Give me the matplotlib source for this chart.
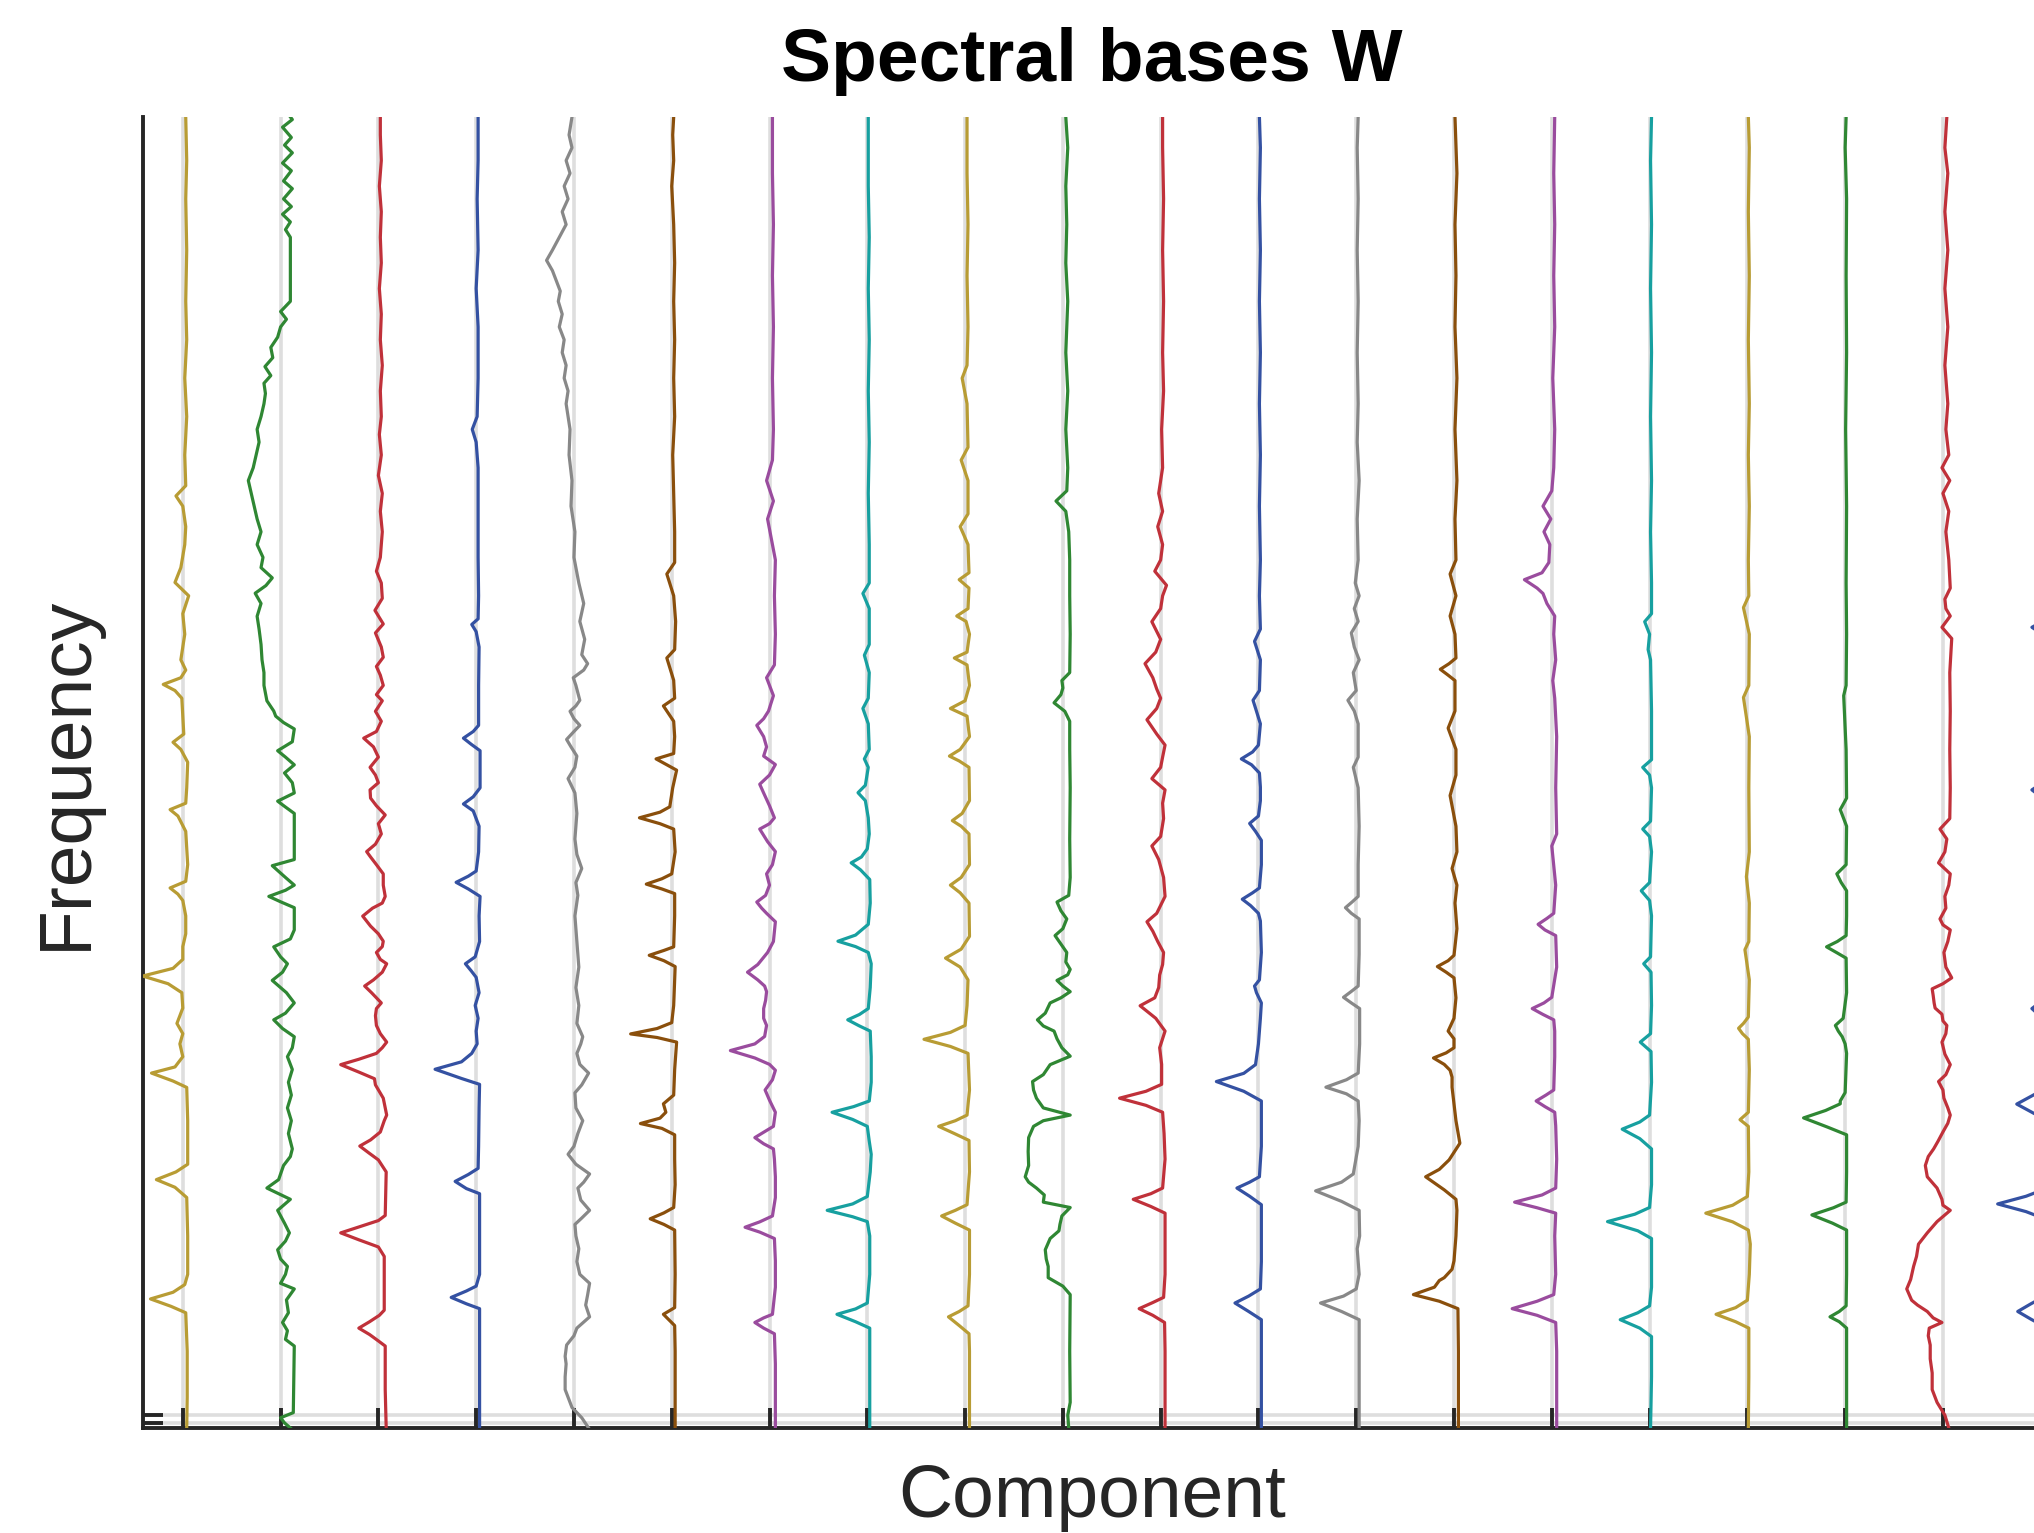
import matplotlib
matplotlib.use("Agg")
import matplotlib.pyplot as plt
import numpy as np

# Spectral bases W: 20 components, each drawn as a vertical trace at x = k - w(f)
# data: (frequency bin, leftward deflection in component units)

c01 = [(0, -0.04), (12, -0.045), (30, -0.045), (45, -0.03), (47.5, 0.12), (50.4, 0.33), (53, 0.1), (56, -0.02),
       (60, -0.05), (75, -0.05), (90, -0.04), (94, 0.08), (97, 0.27), (100, 0.07), (103, -0.05), (120, -0.05),
       (133, -0.04), (135.5, 0.1), (138.6, 0.32), (141, 0.08), (145, 0.0), (150, 0.03), (154, 0.0), (158, 0.06),
       (164, 0.0), (170, 0.01), (173.5, 0.15), (176.5, 0.41), (179.5, 0.1), (183, 0.0), (188, 0.0), (193, -0.03),
       (200, -0.03), (206, 0.0), (208.5, 0.05), (210.9, 0.13), (213.5, -0.03), (220, -0.05), (233, -0.03),
       (239, 0.05), (241.5, 0.13), (244, -0.03), (250, -0.04), (260, -0.05), (265, 0.02), (267.8, 0.10),
       (271, -0.01), (278, 0.0), (285, 0.01), (288, 0.08), (290.4, 0.20), (293, 0.02), (296, -0.03), (300, 0.02),
       (310, -0.02), (318, 0.0), (325, -0.06), (330.2, 0.08), (336, 0.02), (345, -0.02), (352, -0.03),
       (360, 0.0), (364, 0.07), (368, -0.03), (380, -0.02), (395, -0.04), (410, -0.02), (425, -0.04),
       (440, -0.03), (460, -0.04), (480, -0.03), (495, -0.04), (512, -0.03)]

c02 = [(0, -0.10), (2, -0.04), (4, 0.0), (6, -0.13), (32, -0.14), (34.6, -0.05), (38, -0.07), (41.2, -0.02),
       (45, -0.08), (50, -0.06), (54.3, -0.14), (56.5, 0.0), (60, -0.05), (63.1, -0.07), (66, 0.0), (69.6, 0.03),
       (73, -0.05), (76.2, -0.09), (80, -0.04), (85, 0.03), (89.3, -0.10), (93.7, 0.14), (97, 0.02),
       (102.5, -0.03), (106, -0.10), (109, -0.12), (115, -0.08), (120, -0.11), (125, -0.07), (130, -0.11),
       (135, -0.08), (140, -0.12), (145, -0.07), (148.5, -0.12), (152.8, -0.14), (156, -0.02), (159.4, 0.07),
       (162, -0.05), (166, -0.14), (170, -0.06), (174.8, 0.085), (178, -0.02), (181.3, -0.07), (184, 0.0),
       (187.9, 0.07), (191, -0.1), (194.5, -0.14), (203.2, -0.14), (205.5, 0.0), (207.6, 0.12), (210, -0.05),
       (212, -0.14), (215, -0.05), (219.6, 0.085), (222, -0.14), (240, -0.14), (242.5, -0.05), (244.8, 0.03),
       (248, -0.14), (252, -0.12), (255.8, -0.04), (259, -0.14), (262, -0.05), (264.5, 0.03), (268, -0.12),
       (273, -0.14), (275.5, -0.03), (278, 0.05), (280, 0.07), (284, 0.14), (290, 0.17), (295, 0.17),
       (300, 0.19), (306, 0.2), (312, 0.22), (317, 0.24), (322, 0.2), (326, 0.26), (329, 0.15), (332, 0.085),
       (336, 0.2), (340, 0.18), (345, 0.24), (350, 0.2), (355, 0.24), (360, 0.27), (365, 0.3), (370, 0.33),
       (375, 0.28), (380, 0.25), (385, 0.22), (390, 0.24), (395, 0.2), (400, 0.17), (404, 0.155), (408, 0.17),
       (411, 0.1), (414.5, 0.16), (418, 0.08), (422, 0.1), (426, 0.03), (430, 0.0), (433, -0.06), (436, 0.0),
       (440, -0.10), (465, -0.10), (468, -0.05), (471, -0.1), (474, -0.02), (477, -0.11), (480, -0.03),
       (484, -0.12), (487, -0.03), (491, -0.11), (494, -0.02), (498, -0.12), (501, -0.04), (504, -0.11),
       (508, -0.02), (511, -0.12), (512, -0.1)]

c03 = [(0, -0.08), (15, -0.07), (32, -0.07), (34, 0.0), (36.5, 0.09), (39, 0.2), (41.5, 0.09), (44, -0.01),
       (46, -0.06), (60, -0.06), (67, -0.06), (70.7, 0.0), (73.5, 0.2), (76.2, 0.385), (78.5, 0.2), (81, 0.0),
       (83, -0.07), (100, -0.08), (104.7, 0.0), (107.5, 0.1), (110.1, 0.19), (112.5, 0.08), (115.6, -0.02),
       (120, -0.06), (122.2, -0.085), (128.8, -0.05), (134, 0.03), (136.4, 0.04), (139, 0.2), (141.9, 0.385),
       (144, 0.2), (146.3, 0.02), (148.5, -0.04), (150.7, -0.085), (154, -0.02), (157.2, 0.02), (161, 0.03),
       (163.8, 0.02), (166, -0.03), (170, 0.07), (172.6, 0.14), (175, 0.05), (178, -0.04), (181.3, -0.085),
       (183, -0.02), (185.7, 0.02), (188, -0.04), (190.1, -0.05), (193, 0.0), (196, 0.08), (199.9, 0.16),
       (203, 0.06), (205, -0.04), (207.6, -0.07), (212, -0.05), (216.4, -0.05), (220, 0.02), (223, 0.08),
       (225.1, 0.12), (228, 0.03), (232, -0.03), (236, 0.0), (239.4, -0.07), (243, 0.02), (246, 0.08),
       (249.2, 0.085), (252, 0.0), (255, 0.03), (258, 0.085), (262, 0.0), (266, 0.05), (269.4, 0.15),
       (272, 0.02), (276, -0.03), (279.9, 0.03), (284, -0.04), (286.4, 0.02), (290, -0.05), (294, -0.02),
       (297.4, 0.02), (301, -0.05), (305, -0.03), (310.5, 0.03), (314, -0.05), (319.3, 0.035), (324, -0.04),
       (330, -0.03), (334.6, 0.02), (340, -0.02), (350, -0.04), (358, -0.02), (365, -0.04), (372, 0.0),
       (380, -0.03), (388, -0.01), (395, -0.03), (405, -0.02), (415, -0.04), (425, -0.02), (435, -0.03),
       (445, -0.01), (455, -0.03), (465, -0.02), (475, -0.03), (485, -0.01), (495, -0.03), (505, -0.02),
       (512, -0.02)]

c04 = [(0, -0.035), (30, -0.035), (46.6, -0.035), (48.5, 0.1), (51, 0.255), (53.5, 0.1), (55.4, 0.0),
       (60, -0.035), (91.5, -0.035), (93.5, 0.1), (96.3, 0.215), (99, 0.08), (101.4, -0.02), (110, -0.025),
       (125, -0.03), (134.2, -0.035), (136.5, 0.15), (140.1, 0.42), (143, 0.15), (146.3, 0.045), (150, -0.01),
       (155, 0.0), (160, -0.02), (165, 0.01), (170, -0.03), (176, 0.0), (178.5, 0.05), (181.3, 0.11),
       (184, 0.01), (190, -0.035), (200, -0.03), (207.6, -0.04), (210.5, 0.08), (213.1, 0.205), (215.5, 0.08),
       (217.5, 0.0), (225, -0.025), (235, -0.03), (241, 0.03), (243.7, 0.13), (246.5, 0.03), (250, -0.04),
       (264.5, -0.04), (267, 0.05), (269.4, 0.13), (272, 0.03), (274.4, -0.025), (290, -0.025), (305, -0.03),
       (311, 0.0), (313.8, 0.045), (316, -0.02), (325, -0.025), (340, -0.02), (360, -0.02), (375, -0.02),
       (385, 0.0), (390, 0.04), (395, -0.01), (410, -0.02), (430, -0.02), (445, 0.0), (460, -0.02),
       (480, -0.01), (495, -0.02), (512, -0.02)]

c05 = [(0, -0.15), (4, -0.08), (8, 0.02), (11, 0.05), (15, 0.09), (20, 0.09), (25, 0.08), (28, 0.09),
       (32.4, 0.075), (36, 0.0), (39, -0.03), (43.4, -0.16), (48, -0.12), (52, -0.14), (56.5, -0.16),
       (60, -0.06), (65, -0.03), (70, -0.05), (75, -0.02), (79.5, -0.01), (82, -0.08), (85, -0.16),
       (89, -0.07), (93.7, -0.04), (96, -0.1), (99.2, -0.16), (103, -0.02), (106.9, 0.06), (110, 0.0),
       (115, -0.04), (120, -0.09), (125, -0.02), (130.9, -0.01), (134, -0.08), (138.6, -0.15), (142, -0.06),
       (146.3, -0.03), (150, -0.07), (152.8, -0.09), (158, -0.03), (165, -0.05), (172, -0.02), (180, -0.05),
       (190, -0.03), (200, -0.01), (208, -0.04), (213, -0.02), (218.5, -0.08), (224, -0.03), (230, -0.01),
       (240, -0.03), (248, -0.01), (253.6, 0.06), (258, -0.01), (262.4, -0.03), (266, 0.03), (268.9, 0.075),
       (272, 0.0), (274.4, -0.06), (277, 0.0), (279.9, 0.04), (282, -0.02), (284.2, -0.06), (290, -0.02),
       (293, 0.007), (296, -0.1), (298.5, -0.14), (302, -0.08), (308, -0.11), (315, -0.06), (322, -0.1),
       (330, -0.05), (340, 0.0), (350, -0.01), (360, 0.03), (370, 0.02), (380, 0.05), (390, 0.04), (400, 0.08),
       (405, 0.06), (410, 0.1), (415, 0.08), (420, 0.12), (425, 0.10), (430, 0.15), (435, 0.12), (440, 0.16),
       (444, 0.14), (448, 0.18), (452, 0.22), (456, 0.28), (460, 0.22), (465, 0.15), (470, 0.08), (475, 0.12),
       (480, 0.06), (485, 0.10), (490, 0.04), (495, 0.08), (500, 0.02), (505, 0.05), (512, 0.02)]

c06 = [(0, -0.035), (30, -0.035), (40, -0.03), (44.4, 0.085), (47, -0.03), (60, -0.035), (77.3, -0.03),
       (79.5, 0.08), (81.7, 0.22), (84, 0.08), (86.1, -0.02), (95, -0.035), (105, -0.03), (114.5, -0.03),
       (117, 0.1), (118.9, 0.32), (121, 0.12), (123.3, 0.06), (126.6, 0.085), (130, -0.02), (140, -0.03),
       (150.7, -0.05), (152.5, 0.15), (153.9, 0.42), (156, 0.15), (158.3, 0.0), (165, -0.02), (175, -0.03),
       (180.2, -0.035), (182.5, 0.08), (184.6, 0.23), (186.5, 0.08), (187.9, -0.02), (200, -0.03),
       (208.7, -0.03), (210.5, 0.1), (212.4, 0.26), (214.5, 0.1), (216.4, 0.0), (225, -0.035), (233.9, -0.02),
       (236, 0.12), (238.3, 0.33), (240.5, 0.12), (242.6, 0.02), (250, -0.01), (256.9, -0.05), (259, 0.05),
       (261.3, 0.16), (263.4, -0.02), (270, -0.03), (276, -0.02), (282, 0.085), (285, -0.03), (292, -0.02),
       (300.7, 0.05), (304, -0.03), (315, -0.04), (325, -0.02), (333.5, 0.05), (338, -0.03), (350, -0.03),
       (365, -0.02), (380, -0.01), (395, -0.03), (410, -0.02), (425, -0.03), (440, -0.02), (455, -0.03),
       (470, -0.02), (485, 0.0), (495, -0.02), (505, -0.01), (512, -0.02)]

c07 = [(0, -0.06), (25, -0.06), (36.8, -0.05), (39, 0.06), (41.2, 0.15), (43, 0.06), (44.4, -0.03),
       (55, -0.06), (65.3, -0.06), (74, -0.05), (76.5, 0.1), (78.4, 0.25), (80.5, 0.1), (82.8, -0.03),
       (90, -0.06), (98.1, -0.06), (105, -0.05), (109, -0.04), (111, 0.06), (113.4, 0.15), (115.5, 0.06),
       (117.8, -0.04), (123.3, -0.06), (128, 0.0), (132, 0.045), (136, -0.03), (139.7, -0.06), (142, 0.0),
       (144.5, 0.15), (147.4, 0.40), (150, 0.15), (152.9, 0.05), (157.2, 0.03), (160, 0.06), (163.8, 0.06),
       (167, 0.04), (170.4, 0.03), (172.6, 0.05), (175, 0.12), (178, 0.225), (181, 0.12), (185.7, 0.02),
       (190, -0.04), (197.7, -0.06), (201, 0.03), (203, 0.08), (205.4, 0.13), (208, 0.04), (212, 0.0),
       (216.4, 0.03), (220, -0.03), (225.1, -0.06), (229, 0.02), (233.9, 0.1), (236, 0.0), (238.3, -0.05),
       (243, 0.0), (248, 0.06), (251.4, 0.1), (255, 0.0), (259.1, -0.06), (262.4, 0.06), (266, 0.03),
       (270, 0.06), (274.4, 0.13), (277, 0.06), (280, 0.01), (286, -0.04), (293, 0.03), (298, -0.05),
       (310, -0.06), (325, -0.05), (339, -0.06), (355, 0.02), (362, -0.04), (370, 0.03), (378, -0.03),
       (390, -0.04), (410, -0.03), (430, -0.04), (450, -0.03), (470, -0.04), (490, -0.03), (512, -0.03)]

c08 = [(0, -0.025), (30, -0.025), (39, -0.025), (41.5, 0.12), (44.4, 0.31), (46.5, 0.12), (48.8, 0.0),
       (60, -0.025), (75, -0.025), (80.6, 0.0), (82.5, 0.15), (85, 0.41), (87.5, 0.15), (90.4, 0.0),
       (100, -0.03), (106.9, -0.04), (112, -0.02), (117.8, 0.0), (120.5, 0.15), (123.3, 0.36), (125.5, 0.14),
       (127.7, -0.02), (135, -0.04), (145, -0.04), (155, -0.03), (157, 0.08), (159.4, 0.20), (161.5, 0.08),
       (163.8, -0.01), (172, -0.03), (181.3, -0.04), (185.7, -0.01), (188, 0.12), (190.1, 0.30), (192.5, 0.12),
       (196.7, -0.01), (205, -0.03), (214.2, -0.025), (218, 0.07), (220.7, 0.165), (223, 0.06), (226.2, 0.0),
       (232, -0.02), (238.3, -0.01), (245, 0.02), (248.1, 0.095), (251, 0.02), (258, -0.01), (261.3, 0.03),
       (265, -0.02), (275, -0.01), (281, 0.045), (285, -0.01), (295, -0.02), (301.8, 0.03), (306, -0.02),
       (320, -0.02), (325.9, 0.045), (330, -0.02), (345, -0.02), (365, -0.01), (385, -0.02), (405, -0.01),
       (425, -0.02), (445, -0.01), (465, -0.02), (485, -0.01), (512, -0.01)]

c09 = [(0, -0.045), (30, -0.045), (36.8, -0.04), (40, 0.06), (43.4, 0.17), (45.5, 0.06), (47.7, -0.03),
       (60, -0.045), (77.3, -0.045), (80, 0.1), (82.8, 0.24), (85, 0.1), (87.2, -0.02), (100, -0.045),
       (112.3, -0.04), (115, 0.11), (117.8, 0.27), (120, 0.1), (122.2, -0.02), (132, -0.045), (146.3, -0.03),
       (149, 0.15), (151.8, 0.42), (154.5, 0.15), (157.2, 0.0), (165, -0.02), (175, -0.03), (180, 0.05),
       (183.5, 0.2), (187, 0.04), (192, -0.045), (205, -0.04), (209, 0.05), (212, 0.15), (215, 0.04),
       (220, -0.045), (232, -0.04), (235, 0.04), (237.2, 0.13), (240, 0.03), (245, -0.045), (258, -0.04),
       (260.5, 0.06), (262.4, 0.16), (265, 0.05), (270, -0.045), (278, -0.02), (281, 0.15), (284, 0.0),
       (290, -0.045), (298, -0.02), (300.7, 0.11), (303, -0.02), (310, -0.045), (315, -0.01), (317.1, 0.085),
       (320, -0.03), (328, -0.04), (331.3, 0.06), (334, -0.04), (345, -0.03), (352, 0.05), (357, -0.03),
       (370, -0.03), (378, 0.04), (383, -0.03), (400, -0.02), (410, 0.03), (415, -0.02), (430, -0.03),
       (450, -0.02), (470, -0.03), (490, -0.02), (512, -0.02)]

c10 = [(0, -0.06), (5, -0.05), (10, -0.075), (30, -0.07), (52.1, -0.075), (55.4, 0.0), (58.7, 0.15),
       (63.1, 0.15), (66, 0.17), (69.6, 0.18), (74, 0.13), (77, 0.04), (79.5, 0.03), (82.8, 0.01),
       (86.1, -0.075), (88.2, 0.2), (91, 0.19), (93.7, 0.27), (96, 0.35), (98.1, 0.385), (102.5, 0.35),
       (108, 0.355), (113.4, 0.35), (117.8, 0.30), (120, 0.2), (122.2, -0.075), (125, 0.2), (128.8, 0.27),
       (132, 0.3), (135.3, 0.31), (138, 0.2), (141.9, 0.13), (145.2, -0.075), (148.5, 0.01), (152, 0.06),
       (155, 0.09), (157, 0.2), (159.4, 0.26), (162, 0.18), (166, 0.13), (168, 0.02), (170.4, -0.075),
       (172.6, 0.0), (174.8, 0.06), (177, -0.05), (179.1, -0.075), (182, -0.03), (185.7, -0.04), (189, 0.02),
       (192.3, 0.08), (195, 0.0), (198.8, -0.04), (202, 0.02), (205.4, 0.06), (208, -0.06), (215, -0.075),
       (230, -0.07), (250, -0.075), (265, -0.07), (276, -0.07), (279.9, -0.02), (283.2, 0.09), (286.4, 0.02),
       (289, 0.0), (291.9, 0.01), (295, -0.07), (310, -0.075), (325, -0.07), (339, -0.07), (350, -0.06),
       (358, -0.03), (362, 0.07), (366, -0.04), (375, -0.05), (390, -0.03), (405, -0.05), (420, -0.03),
       (440, -0.05), (455, -0.03), (470, -0.04), (485, -0.03), (500, -0.05), (512, -0.03)]

c11 = [(0, -0.045), (30, -0.045), (41.2, -0.04), (44, 0.08), (46.6, 0.22), (49, 0.08), (51, -0.03),
       (60, -0.045), (83.9, -0.045), (86.5, 0.1), (89.3, 0.28), (91.5, 0.1), (93.7, -0.02), (105, -0.045),
       (115, -0.035), (123.3, -0.02), (126, 0.15), (128.8, 0.42), (131.5, 0.15), (134.2, -0.01), (142, -0.01),
       (148.5, 0.01), (155, -0.045), (160, 0.05), (164.9, 0.21), (168, 0.06), (172, 0.02), (176.9, 0.01),
       (181, -0.02), (185.7, -0.03), (190, 0.03), (194, 0.08), (197.7, 0.14), (201, 0.04), (207.6, -0.045),
       (215, -0.03), (222, 0.02), (227.3, 0.09), (231, 0.0), (238, -0.03), (244, -0.02), (249.2, -0.045),
       (253.6, 0.09), (258, 0.0), (262, -0.02), (266.7, -0.045), (271, 0.04), (276.6, 0.14), (281, 0.04),
       (285, 0.0), (288.6, 0.04), (293, 0.08), (298.5, 0.16), (303, 0.05), (308, 0.0), (314.9, 0.09),
       (320, 0.0), (325, -0.02), (329.1, -0.06), (334.6, 0.06), (339, 0.0), (345, -0.02), (352, 0.03),
       (358, -0.02), (365, 0.02), (375, -0.02), (390, -0.01), (405, -0.03), (420, -0.02), (440, -0.03),
       (460, -0.02), (480, -0.03), (500, -0.02), (512, -0.02)]

c12 = [(0, -0.03), (30, -0.03), (42.3, -0.03), (45.5, 0.1), (48.8, 0.24), (51.5, 0.1), (54.3, -0.02),
       (65, -0.03), (87.2, -0.03), (90.5, 0.09), (93.7, 0.22), (96, 0.09), (98.1, -0.01), (110, -0.03),
       (127.7, -0.03), (131.5, 0.15), (135.3, 0.43), (138.5, 0.15), (141.9, 0.03), (150, 0.0), (160, -0.02),
       (166, -0.03), (170, 0.02), (172.6, 0.04), (175, -0.01), (185.7, -0.03), (198, -0.02), (201, 0.0),
       (204, 0.08), (206.5, 0.165), (209, 0.06), (210.9, -0.01), (220, -0.03), (229.5, -0.03), (233, 0.03),
       (236.1, 0.09), (239, 0.0), (245, -0.02), (250.3, -0.02), (255.8, -0.01), (259, 0.07), (261.3, 0.175),
       (264, 0.06), (266.7, 0.0), (275, -0.02), (284.2, 0.055), (288, -0.01), (300, -0.02), (307.2, 0.04),
       (312, -0.02), (325, -0.01), (339, -0.02), (360, -0.01), (380, -0.02), (400, -0.01), (420, -0.02),
       (440, -0.01), (460, -0.02), (480, -0.01), (500, -0.02), (512, -0.01)]

c13 = [(0, -0.03), (30, -0.03), (42.3, -0.03), (45.5, 0.15), (48.8, 0.365), (51.5, 0.13), (54.3, 0.0),
       (60, -0.03), (70, -0.01), (75, -0.035), (85, -0.03), (88.5, 0.15), (92.6, 0.415), (96, 0.15),
       (99.2, 0.03), (110, -0.02), (120, -0.03), (127.7, -0.02), (130.5, 0.1), (133.1, 0.31), (136, 0.1),
       (138.6, -0.02), (150, -0.035), (163.8, -0.035), (166, 0.05), (168.2, 0.13), (170.5, 0.05),
       (172.6, -0.02), (185, -0.03), (198.8, -0.03), (201, 0.05), (203.2, 0.11), (205.5, 0.04), (207.6, -0.02),
       (220, -0.02), (235, -0.03), (250, -0.02), (258, 0.03), (262, -0.02), (275, -0.02), (280, 0.02),
       (284.2, 0.085), (288, 0.0), (295, 0.03), (300, -0.03), (305, 0.02), (310.5, 0.05), (315, -0.02),
       (320, 0.02), (325, -0.03), (330, 0.01), (339, -0.02), (355, -0.01), (370, -0.03), (385, -0.01),
       (400, -0.02), (420, -0.01), (440, -0.02), (460, -0.01), (480, -0.02), (500, -0.01), (512, -0.02)]

c14 = [(0, -0.045), (30, -0.045), (46.6, -0.04), (49.5, 0.15), (52.1, 0.415), (55, 0.2), (57.6, 0.15),
       (58.7, 0.1), (62, 0.02), (65.3, 0.0), (75, -0.02), (85, -0.03), (89.3, -0.02), (93, 0.1), (98.1, 0.29),
       (101, 0.15), (104.7, 0.05), (111.2, -0.06), (120, -0.02), (133.1, 0.02), (137, 0.02), (139.7, 0.04),
       (142, 0.1), (144.5, 0.21), (146.5, 0.08), (148.5, 0.0), (152, 0.0), (155, 0.06), (160, 0.0),
       (168, -0.02), (175.8, 0.0), (178, 0.08), (180.2, 0.17), (182.5, 0.06), (184.6, 0.0), (195, -0.03),
       (205, -0.01), (212, -0.03), (218.5, 0.02), (225, -0.03), (235, -0.02), (247, 0.04), (255, -0.02),
       (265, -0.02), (273.3, 0.06), (280, -0.01), (291.9, -0.01), (294, 0.06), (296.3, 0.14), (298.5, 0.05),
       (300.7, -0.02), (310, -0.01), (317.1, 0.04), (325, -0.02), (333.5, 0.04), (339, -0.02), (355, -0.01),
       (370, -0.03), (390, -0.01), (410, -0.03), (430, -0.01), (450, -0.02), (470, -0.01), (490, -0.03),
       (512, -0.01)]

c15 = [(0, -0.05), (30, -0.05), (41.2, -0.04), (44, 0.15), (46.6, 0.405), (49.5, 0.15), (52.1, -0.02),
       (60, -0.04), (75, -0.03), (83.9, -0.04), (86, 0.15), (88.2, 0.38), (91, 0.1), (93.7, -0.04),
       (105, -0.05), (118, -0.04), (123.3, -0.03), (125.5, 0.07), (127.7, 0.16), (130, 0.06), (132, -0.02),
       (145, -0.03), (155, -0.03), (159.4, -0.02), (161.5, 0.09), (163.8, 0.2), (166, 0.08), (168.2, 0.0),
       (180, -0.05), (192.3, -0.04), (194.5, 0.07), (196.7, 0.14), (199, 0.05), (201, -0.02), (212, -0.04),
       (227.3, 0.0), (232, -0.05), (250, -0.04), (270, -0.05), (285, -0.03), (291.9, -0.01), (300, -0.04),
       (310, -0.02), (317.1, -0.03), (322, 0.05), (325.9, 0.09), (328, 0.15), (331.3, 0.28), (334, 0.1),
       (338, 0.03), (345, 0.02), (350, 0.08), (355, 0.01), (360, 0.09), (366, 0.0), (375, -0.02), (390, -0.03),
       (410, -0.01), (430, -0.03), (450, -0.02), (470, -0.03), (490, -0.02), (512, -0.03)]

c16 = [(0, -0.01), (20, -0.02), (35.7, -0.02), (39, 0.1), (42.3, 0.30), (45, 0.12), (47.7, 0.0), (55, -0.02),
       (74, -0.02), (77, 0.12), (80.6, 0.43), (83.5, 0.15), (86.1, 0.0), (95, -0.02), (109, -0.02), (113, 0.1),
       (116.7, 0.28), (119.5, 0.1), (122.2, 0.0), (135, -0.02), (147, -0.015), (150.7, 0.095), (154, -0.01),
       (165, -0.02), (178, -0.015), (181.3, 0.06), (184, -0.01), (200, -0.02), (206, 0.0), (209.8, 0.085),
       (213, 0.0), (225, -0.02), (231, 0.0), (233.9, 0.07), (237, -0.01), (250, -0.02), (255, 0.0),
       (258, 0.07), (261, -0.02), (280, -0.02), (300, -0.01), (304, 0.015), (310, 0.0), (314.9, 0.05),
       (318, -0.02), (330, -0.02), (350, -0.01), (370, -0.02), (395, -0.01), (420, -0.02), (445, -0.01),
       (470, -0.02), (495, -0.01), (512, -0.02)]

c17 = [(0, -0.01), (20, -0.015), (39, -0.015), (41.5, 0.12), (44.4, 0.32), (47, 0.12), (49.9, 0.0),
       (60, -0.02), (71.8, -0.03), (77.3, -0.01), (80.5, 0.15), (83.9, 0.425), (87, 0.15), (90.4, 0.0),
       (100, -0.015), (117.8, -0.01), (120.4, 0.075), (123.3, -0.01), (140, -0.02), (151.8, -0.01),
       (154, 0.05), (156.1, 0.09), (158, 0.04), (160.5, -0.01), (175, -0.02), (186.8, 0.025), (190, -0.015),
       (205, -0.02), (215.3, 0.01), (225, -0.02), (250, -0.015), (270, -0.02), (285.3, 0.04), (290, -0.015),
       (310, -0.02), (320.4, 0.04), (325, -0.015), (339, -0.01), (360, -0.02), (380, -0.01), (400, -0.02),
       (425, -0.01), (450, -0.02), (475, -0.01), (500, -0.02), (512, -0.01)]

c18 = [(0, -0.015), (20, -0.015), (39, -0.015), (41.5, 0.06), (43.4, 0.155), (45.5, 0.06), (47.7, -0.01),
       (60, -0.015), (77.3, -0.015), (80, 0.13), (83.2, 0.34), (86, 0.12), (88.2, -0.01), (100, -0.015),
       (114.5, -0.015), (117.5, 0.18), (121.1, 0.425), (124, 0.2), (126.6, 0.05), (127.7, 0.05), (131, 0.0),
       (146.3, -0.015), (150, 0.0), (152.8, 0.03), (155, 0.07), (157.2, 0.1), (160, 0.02), (170, -0.015),
       (183.5, -0.01), (185.5, 0.08), (187.9, 0.19), (190, 0.08), (192.3, -0.01), (200, -0.015),
       (209.8, -0.015), (213, 0.04), (216.4, 0.085), (220, -0.01), (235, -0.015), (241.5, 0.05), (246, -0.015),
       (265, -0.01), (286, 0.015), (290, -0.01), (310, -0.015), (330, -0.01), (360, -0.015), (390, -0.005),
       (420, -0.015), (450, -0.01), (480, -0.015), (500, 0.0), (512, -0.01)]

c19 = [(0, -0.06), (5, -0.02), (10, 0.06), (15, 0.11), (21.5, 0.11), (27, 0.13), (32.4, 0.13), (36, 0.15),
       (39, 0.14), (41.2, 0.01), (43, 0.1), (45.5, 0.16), (48, 0.26), (49.9, 0.32), (54.3, 0.37), (58, 0.33),
       (63.1, 0.30), (67, 0.27), (71.8, 0.25), (76.2, 0.16), (80.6, 0.06), (85, -0.075), (87, 0.0),
       (89.3, 0.01), (93.7, 0.06), (98.1, 0.16), (102.5, 0.18), (106, 0.15), (109, 0.095), (112, 0.05),
       (115.6, 0.0), (119, -0.05), (122.2, -0.075), (125, -0.05), (128.8, -0.01), (132, 0.0), (135.3, 0.045),
       (138, -0.03), (141.9, -0.075), (146, -0.02), (150.7, 0.01), (154, -0.03), (157.2, -0.04), (159, 0.0),
       (161.6, 0.01), (164, 0.08), (166, 0.09), (169, 0.1), (171.5, 0.11), (173.5, 0.0), (175.8, -0.09),
       (180, -0.03), (185.7, -0.01), (190, -0.05), (194.5, -0.075), (196.5, 0.0), (198.8, 0.03), (203, -0.03),
       (207.6, -0.02), (212, -0.06), (216.4, -0.075), (220.7, 0.045), (225, -0.02), (230, -0.04),
       (233.9, 0.03), (238, -0.07), (250, -0.075), (265, -0.07), (280, -0.075), (295, -0.07), (308.3, -0.09),
       (312.7, 0.01), (317.1, -0.075), (320, -0.03), (323.7, -0.02), (328, -0.075), (339, -0.06), (350, -0.03),
       (358, -0.06), (365, 0.0), (370, -0.07), (375, 0.01), (380, -0.06), (390, -0.03), (400, -0.05),
       (415, -0.02), (430, -0.05), (445, -0.02), (460, -0.05), (475, -0.02), (490, -0.05), (500, -0.02),
       (512, -0.04)]

c20 = [(0, -0.02), (40, -0.02), (42.5, 0.1), (45.5, 0.235), (48.5, 0.1), (51, -0.02), (82, -0.02),
       (84.5, 0.15), (87.5, 0.44), (90.5, 0.15), (93, -0.02), (121, -0.02), (123.5, 0.1), (126.5, 0.245),
       (129.5, 0.1), (132, -0.02), (160, -0.02), (163.8, 0.09), (167, -0.02), (246, -0.02), (249.2, 0.09),
       (252, -0.02), (310, -0.02), (312.7, 0.09), (315, -0.02), (512, -0.02)]

components = [c01, c02, c03, c04, c05, c06, c07, c08, c09, c10,
              c11, c12, c13, c14, c15, c16, c17, c18, c19, c20]

palette = ['#b89c34', '#2f8733', '#c0313a', '#3451a2', '#888888', '#8a4f0c', '#9a4c9e', '#17a0a0']

component_ticks = list(range(1, 21))
freq_ticks = [2, 5]

plt.rcParams['font.family'] = ['Liberation Sans', 'DejaVu Sans']

fig = plt.figure(figsize=(10.17, 7.665), dpi=200)
ax = fig.add_axes([0.0705, 0.0685, 0.9328, 0.8552])

# light grid drawn by hand so the tick marks sit on top of it
for xt in component_ticks:
    ax.axvline(xt, color='#dedede', lw=1.3, zorder=0.4)
for yt in freq_ticks:
    ax.axhline(yt, color='#dedede', lw=1.3, zorder=0.4)

for k, pts in enumerate(components, start=1):
    arr = np.array(sorted(pts))
    ax.plot(k - arr[:, 1], arr[:, 0], color=palette[(k - 1) % len(palette)], lw=1.15, zorder=3)

ax.set_xlim(0.597, 20.0)
ax.set_ylim(0, 512)
ax.set_xticks(component_ticks)
ax.set_yticks(freq_ticks)
ax.set_xticklabels([])
ax.set_yticklabels([])
ax.tick_params(direction='in', length=7.2, width=1.4, color='#262626')
for s in ['top', 'right']:
    ax.spines[s].set_visible(False)
for s in ['left', 'bottom']:
    ax.spines[s].set_color('#262626')
    ax.spines[s].set_linewidth(1.4)

ax.set_title('Spectral bases W', fontsize=27, fontweight='bold', pad=13)
ax.set_xlabel('Component', fontsize=27, color='#262626')
ax.set_ylabel('Frequency', fontsize=27, color='#262626')
ax.xaxis.set_label_coords(0.5, -0.027)
ax.yaxis.set_label_coords(-0.0223, 0.5)

fig.savefig('out.png', dpi=200)
